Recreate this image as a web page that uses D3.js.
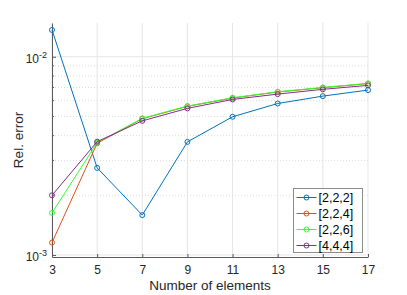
<!DOCTYPE html>
<html>
<head>
<meta charset="utf-8">
<script src="https://cdn.jsdelivr.net/npm/d3@7"></script>
<style>
  body { margin: 0; background: #fff; }
  svg { display: block; font-family: "Liberation Sans", Arial, sans-serif; }
</style>
</head>
<body>
<script>
const W = 407, H = 295;
const M = {left: 52, right: 39, top: 23, bottom: 38};

// data
const elements = [3, 5, 7, 9, 11, 13, 15, 17];
const err222 = [1.365e-2, 2.75e-3, 1.59e-3, 3.72e-3, 4.98e-3, 5.81e-3, 6.33e-3, 6.79e-3];
const err224 = [1.155e-3, 3.66e-3, 4.87e-3, 5.62e-3, 6.19e-3, 6.64e-3, 6.98e-3, 7.32e-3];
const err226 = [1.63e-3, 3.69e-3, 4.89e-3, 5.64e-3, 6.21e-3, 6.66e-3, 7.00e-3, 7.34e-3];
const err444 = [2.0e-3, 3.73e-3, 4.75e-3, 5.49e-3, 6.09e-3, 6.48e-3, 6.85e-3, 7.17e-3];
const seriesNames = ['[2,2,2]', '[2,2,4]', '[2,2,6]', '[4,4,4]'];
const seriesColors = ['#0072BD', '#D95319', '#33FF33', '#7E2F8E'];
const xTicks = [3, 5, 7, 9, 11, 13, 15, 17];
const yMajor = [1e-3, 1e-2];
const yMinor = [2e-3, 3e-3, 4e-3, 5e-3, 6e-3, 7e-3, 8e-3, 9e-3];

const series = [err222, err224, err226, err444].map((v, i) => ({
  name: seriesNames[i], color: seriesColors[i],
  pts: v.map((d, j) => ({x: elements[j], y: d}))
}));

const svg = d3.select('body').append('svg').attr('width', W).attr('height', H);

const x = d3.scaleLinear().domain([3, 17]).range([M.left, W - M.right]);
const y = d3.scaleLog().domain([9.77e-4, 1.48e-2]).range([H - M.bottom, M.top]);

const x0 = M.left, x1 = W - M.right, y0 = H - M.bottom, y1 = M.top;

// grid
const grid = svg.append('g');
grid.selectAll('line.vg').data(xTicks).enter().append('line')
  .attr('x1', d => x(d)).attr('x2', d => x(d)).attr('y1', y0).attr('y2', y1)
  .attr('stroke', '#e6e6e6').attr('stroke-width', 1);
grid.selectAll('line.hg').data(yMajor).enter().append('line')
  .attr('x1', x0).attr('x2', x1).attr('y1', d => y(d)).attr('y2', d => y(d))
  .attr('stroke', '#e6e6e6').attr('stroke-width', 1);
grid.selectAll('line.mg').data(yMinor).enter().append('line')
  .attr('x1', x0).attr('x2', x1).attr('y1', d => y(d)).attr('y2', d => y(d))
  .attr('stroke', '#dcdcdc').attr('stroke-width', 1).attr('stroke-dasharray', '1,2');

// axes
const axisColor = '#5a5a5a';
const xAxis = svg.append('g').attr('transform', `translate(0,${y0})`)
  .call(d3.axisBottom(x).tickValues(xTicks).tickSizeInner(-3).tickSizeOuter(0).tickPadding(8));
const yAxis = svg.append('g').attr('transform', `translate(${x0},0)`)
  .call(d3.axisLeft(y).tickValues(yMajor).tickSizeInner(-4).tickSizeOuter(0).tickFormat(''));
[xAxis, yAxis].forEach(a => {
  a.select('.domain').attr('stroke', axisColor);
  a.selectAll('.tick line').attr('stroke', axisColor);
});
xAxis.selectAll('.tick text').attr('fill', '#262626').attr('font-size', 12);
svg.append('g').selectAll('line').data(yMinor).enter().append('line')
  .attr('x1', x0).attr('x2', x0 + 2).attr('y1', d => y(d)).attr('y2', d => y(d))
  .attr('stroke', axisColor);

// y tick labels 10^n
const yl = svg.append('g').selectAll('text').data(yMajor).enter().append('text')
  .attr('x', x0 - 5).attr('y', d => y(d) + 6)
  .attr('text-anchor', 'end').attr('fill', '#262626').attr('font-size', 12);
yl.append('tspan').text('10');
yl.append('tspan').attr('dy', -5).attr('font-size', 9).text(d => '-' + Math.round(-Math.log10(d)));

// labels
svg.append('text').attr('x', (x0 + x1) / 2).attr('y', H - 5)
  .attr('text-anchor', 'middle').attr('font-size', 13.5).attr('fill', '#262626')
  .text('Number of elements');
svg.append('text').attr('transform', `translate(23,${(y0 + y1) / 2}) rotate(-90)`)
  .attr('text-anchor', 'middle').attr('font-size', 13.5).attr('fill', '#262626')
  .text('Rel. error');

// lines
const line = d3.line().x(d => x(d.x)).y(d => y(d.y));
series.forEach(s => {
  const g = svg.append('g');
  g.append('path').datum(s.pts).attr('d', line)
    .attr('fill', 'none').attr('stroke', s.color).attr('stroke-width', 1);
  g.selectAll('circle').data(s.pts).enter().append('circle')
    .attr('cx', d => x(d.x)).attr('cy', d => y(d.y)).attr('r', 2.5)
    .attr('fill', 'none').attr('stroke', s.color).attr('stroke-width', 1);
});

// legend
const lg = svg.append('g').attr('transform', 'translate(293.5,188.5)');
lg.append('rect').attr('width', 69).attr('height', 64)
  .attr('fill', '#fff').attr('stroke', '#8c8c8c').attr('stroke-width', 1);
series.forEach((s, i) => {
  const ly = 9 + i * 16;
  lg.append('line').attr('x1', 3).attr('x2', 23).attr('y1', ly).attr('y2', ly)
    .attr('stroke', s.color).attr('stroke-width', 1);
  lg.append('circle').attr('cx', 13).attr('cy', ly).attr('r', 2.5)
    .attr('fill', 'none').attr('stroke', s.color);
  lg.append('text').attr('x', 25).attr('y', ly + 4.5)
    .attr('font-size', 12.5).attr('fill', '#000').text(s.name);
});
</script>
</body>
</html>
